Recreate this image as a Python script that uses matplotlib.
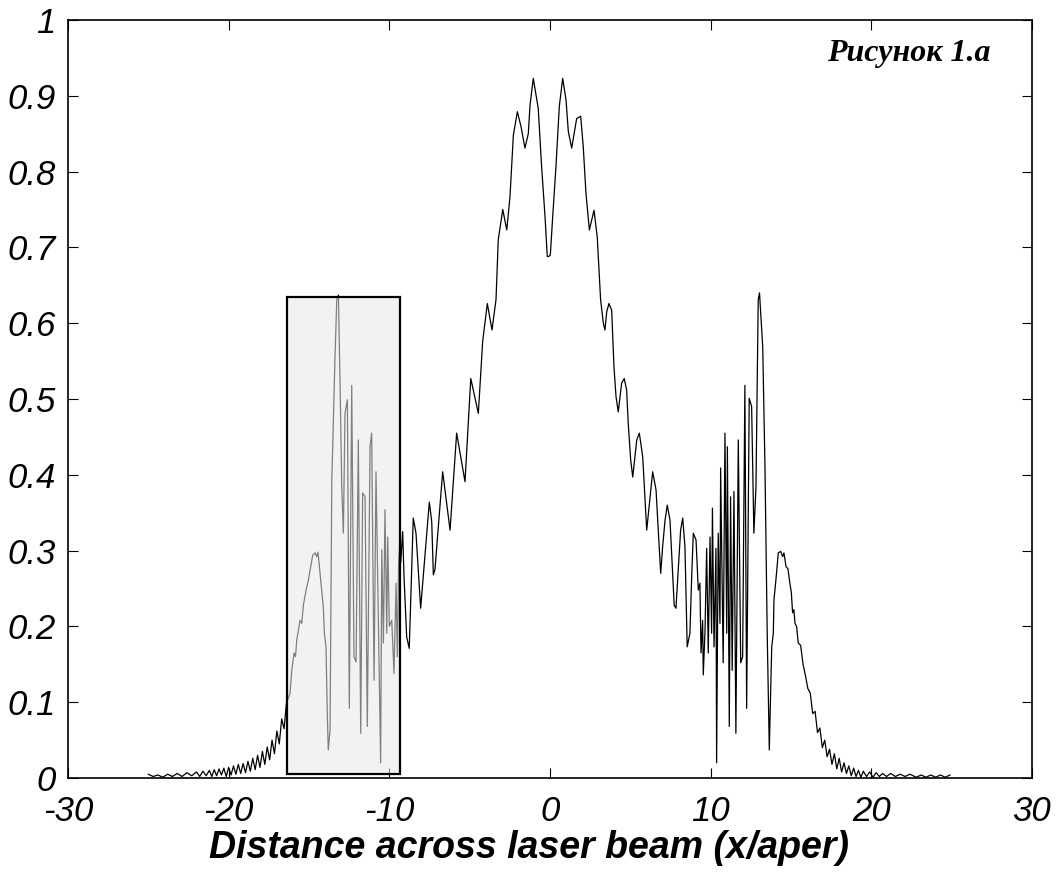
import numpy as np
import matplotlib
matplotlib.use('Agg')
import matplotlib.pyplot as plt
from matplotlib.patches import Rectangle
from matplotlib.ticker import FormatStrFormatter

plt.rcParams['axes.unicode_minus'] = False

# far left tail
tail_left_x = [-25.0, -24.7, -24.4, -24.1, -23.8, -23.5, -23.2, -22.9, -22.6, -22.3, -22.0, -21.8, -21.6, -21.4,
               -21.2, -21.05, -20.9, -20.75, -20.6, -20.45, -20.3, -20.15, -20.0, -19.85, -19.7, -19.55,
               -19.4, -19.25, -19.1, -18.95, -18.8, -18.65, -18.5, -18.35, -18.2, -18.05, -17.9, -17.75,
               -17.6, -17.45, -17.3, -17.15, -17.0, -16.85, -16.7, -16.55, -16.4]
tail_left_y = [0.005, 0.002, 0.004, 0.001, 0.005, 0.002, 0.006, 0.002, 0.007, 0.003, 0.008, 0.002, 0.009, 0.003,
               0.010, 0.002, 0.011, 0.003, 0.012, 0.004, 0.013, 0.002, 0.014, 0.004, 0.016, 0.005,
               0.018, 0.006, 0.019, 0.007, 0.022, 0.009, 0.026, 0.011, 0.030, 0.014, 0.035, 0.018,
               0.041, 0.024, 0.050, 0.032, 0.062, 0.045, 0.078, 0.065, 0.100]

# left side lobe + fringe zone (inside the highlighted box)
box_x = [-16.29, -16.18, -16.07, -15.93, -15.84, -15.76, -15.56, -15.45, -15.35, -15.18, -15.04, -14.89, -14.77, -14.62, -14.52,
         -14.44, -14.27, -14.11, -14.04, -13.94, -13.86, -13.80, -13.69, -13.58, -13.38, -13.27, -13.17,
         -13.07, -12.96, -12.86, -12.76, -12.61, -12.49, -12.34, -12.20, -12.07, -11.93, -11.78, -11.66,
         -11.51, -11.37, -11.20, -11.10, -10.95, -10.83, -10.68, -10.54, -10.47, -10.37, -10.27, -10.16,
         -10.10, -10.00, -9.85, -9.71, -9.58, -9.50, -9.42, -9.33]
box_y = [0.105, 0.112, 0.142, 0.165, 0.160, 0.182, 0.208, 0.204, 0.228, 0.248, 0.261, 0.279, 0.294, 0.297, 0.292,
         0.298, 0.261, 0.226, 0.191, 0.173, 0.085, 0.037, 0.063, 0.393, 0.556, 0.631, 0.637,
         0.525, 0.384, 0.323, 0.481, 0.499, 0.092, 0.518, 0.160, 0.153, 0.446, 0.059, 0.376,
         0.371, 0.068, 0.437, 0.455, 0.129, 0.404, 0.208, 0.020, 0.301, 0.178, 0.354, 0.191,
         0.318, 0.200, 0.208, 0.138, 0.257, 0.160, 0.284, 0.318]

# central beam
main_x = [-9.29, -9.17, -9.09, -8.92, -8.76, -8.51, -8.34, -8.05, -7.51, -7.36, -7.26, -7.16, -6.68,
          -6.22, -5.81, -5.29, -4.93, -4.46, -4.19, -3.90, -3.61, -3.36, -3.22, -2.94, -2.69, -2.49,
          -2.28, -2.03, -1.80, -1.56, -1.35, -1.24, -1.04, -0.73, -0.52, -0.31, -0.17, -0.08, 0.02,
          0.17, 0.37, 0.58, 0.79, 1.00, 1.14, 1.35, 1.66, 1.91, 2.07, 2.24, 2.45, 2.74, 2.94, 3.15,
          3.32, 3.42, 3.53, 3.67, 3.84, 3.98, 4.11, 4.25, 4.46, 4.62, 4.77, 4.87, 5.02, 5.15, 5.40,
          5.56, 5.77, 6.02, 6.39, 6.60, 6.89, 7.01, 7.16, 7.30, 7.47, 7.73, 7.84, 8.13, 8.26, 8.40]
main_y = [0.284, 0.325, 0.268, 0.186, 0.171, 0.343, 0.323, 0.224, 0.364, 0.338, 0.268, 0.275, 0.404,
          0.327, 0.455, 0.391, 0.527, 0.481, 0.576, 0.626, 0.591, 0.631, 0.710, 0.750, 0.723, 0.767,
          0.848, 0.879, 0.859, 0.831, 0.850, 0.888, 0.923, 0.883, 0.806, 0.741, 0.688, 0.688, 0.690,
          0.741, 0.806, 0.886, 0.923, 0.894, 0.853, 0.831, 0.870, 0.873, 0.833, 0.771, 0.723, 0.749, 0.714, 0.631,
          0.600, 0.591, 0.615, 0.626, 0.617, 0.543, 0.503, 0.483, 0.521, 0.527, 0.512, 0.468, 0.420, 0.397, 0.446,
          0.455, 0.424, 0.327, 0.404, 0.380, 0.270, 0.305, 0.340, 0.360, 0.340, 0.228, 0.224, 0.327, 0.343, 0.305]

# right fringe zone + side lobe
right_x = [8.54, 8.71, 8.82, 8.92, 9.09, 9.23, 9.33, 9.40, 9.50, 9.54, 9.65, 9.75, 9.85, 9.96, 10.06,
           10.11, 10.21, 10.33, 10.37, 10.47, 10.58, 10.62, 10.78, 10.89, 11.00, 11.04, 11.16, 11.24,
           11.34, 11.45, 11.57, 11.72, 11.87, 11.99, 12.13, 12.24, 12.40, 12.55, 12.69, 12.82, 12.96,
           13.04, 13.24, 13.38, 13.52, 13.65, 13.80, 13.90, 13.94, 14.06, 14.21, 14.36, 14.48, 14.56,
           14.69, 14.81, 14.93, 15.02, 15.10, 15.18, 15.25, 15.35, 15.45]
right_y = [0.173, 0.191, 0.266, 0.323, 0.314, 0.248, 0.257, 0.165, 0.208, 0.136, 0.195, 0.303, 0.165, 0.318, 0.191,
           0.356, 0.173, 0.303, 0.020, 0.323, 0.204, 0.409, 0.152, 0.455, 0.191, 0.437, 0.068, 0.371,
           0.142, 0.378, 0.059, 0.446, 0.152, 0.160, 0.518, 0.092, 0.501, 0.490, 0.323, 0.384, 0.631,
           0.640, 0.569, 0.411, 0.191, 0.037, 0.173, 0.191, 0.235, 0.261, 0.297, 0.299, 0.292, 0.297,
           0.279, 0.276, 0.257, 0.245, 0.218, 0.222, 0.204, 0.200, 0.178]

# far right tail
tail_right_x = [15.6, 15.75, 15.9, 16.05, 16.2, 16.35, 16.5, 16.65, 16.8, 16.95, 17.1, 17.25, 17.4, 17.55,
                17.7, 17.85, 18.0, 18.15, 18.3, 18.45, 18.6, 18.75, 18.9, 19.05, 19.2, 19.35, 19.5, 19.7,
                19.9, 20.1, 20.3, 20.5, 20.7, 20.95, 21.2, 21.5, 21.8, 22.1, 22.4, 22.8, 23.1, 23.4,
                23.7, 24.0, 24.3, 24.6, 24.9]
tail_right_y = [0.175, 0.150, 0.135, 0.118, 0.112, 0.085, 0.088, 0.060, 0.066, 0.040, 0.050, 0.028, 0.038, 0.018,
                0.032, 0.012, 0.026, 0.008, 0.020, 0.006, 0.016, 0.003, 0.013, 0.002, 0.010, 0.001, 0.009, 0.002,
                0.008, 0.001, 0.007, 0.002, 0.006, 0.002, 0.006, 0.002, 0.005, 0.002, 0.005, 0.001, 0.004, 0.001,
                0.004, 0.001, 0.004, 0.001, 0.004]

# highlighted window
box_left, box_right = -16.37, -9.33
box_bottom, box_top = 0.005, 0.635

x = np.array(tail_left_x + box_x + main_x + right_x + tail_right_x)
y = np.array(tail_left_y + box_y + main_y + right_y + tail_right_y)

fig = plt.figure(figsize=(10.59, 8.81), dpi=100)
ax = fig.add_axes([0.0642, 0.1169, 0.9103, 0.8604])

ax.plot(x, y, color='black', linewidth=0.9, zorder=2)

# translucent grey patch on top of the curve, plus black frame
ax.add_patch(Rectangle((box_left, box_bottom), box_right - box_left, box_top - box_bottom,
                       facecolor=(0.91, 0.91, 0.91), alpha=0.55, edgecolor='none', zorder=3))
ax.add_patch(Rectangle((box_left, box_bottom), box_right - box_left, box_top - box_bottom,
                       facecolor='none', edgecolor='black', linewidth=1.6, zorder=4))

ax.set_xlim(-30, 30)
ax.set_ylim(0, 1)
ax.set_xticks(np.arange(-30, 31, 10))
ax.set_yticks(np.arange(0, 1.01, 0.1))
ax.yaxis.set_major_formatter(FormatStrFormatter('%g'))

ax.tick_params(direction='in', length=7, width=0.8, top=True, right=True)
ax.tick_params(axis='x', pad=12)
ax.tick_params(axis='y', pad=9)
for lab in ax.get_xticklabels() + ax.get_yticklabels():
    lab.set_fontfamily('Liberation Sans')
    lab.set_fontstyle('italic')
    lab.set_fontsize(25)

for sp in ax.spines.values():
    sp.set_linewidth(1.2)

ax.set_xlabel('Distance across laser beam (x/aper)', fontfamily='Liberation Sans',
              fontstyle='italic', fontweight='bold', fontsize=27)
ax.xaxis.set_label_coords(0.4787, -0.068, transform=ax.transAxes)
ax.xaxis.label.set_va('top')

ax.text(0.957, 0.975, 'Рисунок 1.a', transform=ax.transAxes, ha='right', va='top',
        fontfamily='Liberation Serif', fontstyle='italic', fontweight='bold', fontsize=23)

fig.savefig('out.png', dpi=100)
